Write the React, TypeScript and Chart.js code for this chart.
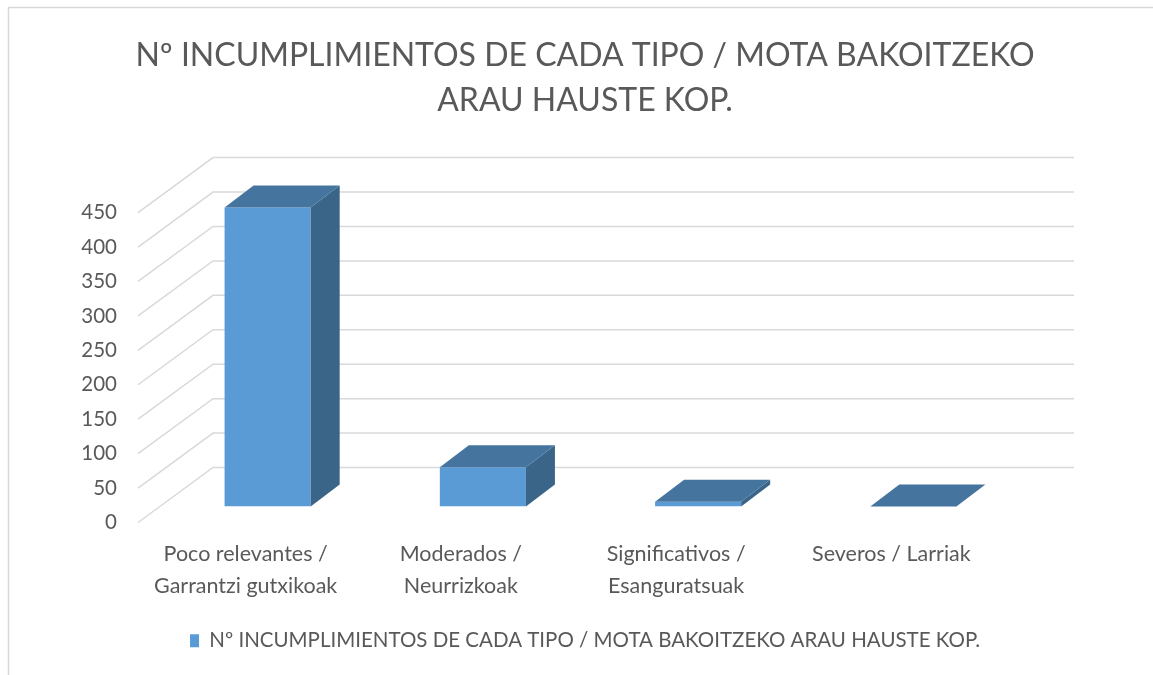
import React, { useEffect, useRef } from "react";
import { Chart, registerables } from "chart.js";

Chart.register(...registerables);

// ---- data ----
const categories: string[][] = [
  ["Poco relevantes /", "Garrantzi gutxikoak"],
  ["Moderados /", "Neurrizkoak"],
  ["Significativos /", "Esanguratsuak"],
  ["Severos / Larriak"],
];
const seriesName = "Nº INCUMPLIMIENTOS DE CADA TIPO / MOTA BAKOITZEKO ARAU HAUSTE KOP.";
const seriesValues = [434, 57, 7, 0];
const titleLines = ["Nº INCUMPLIMIENTOS DE CADA TIPO / MOTA BAKOITZEKO", "ARAU HAUSTE KOP."];
const yMin = 0;
const yMax = 450;
const yStep = 50;

// ---- styles ----
const FONT = "Lato, 'Open Sans', sans-serif";
const TEXT = "#595959";
const GRID = "#d9d9d9";
const FRONT = "#5B9BD5";
const TOP = "#45749F";
const SIDE = "#3A6488";
const FLOOR_DX = 75;
const FLOOR_DY = -55;
const BAR_OX = 22;
const BAR_OY = -16;
const BAR_DX = 29;
const BAR_DY = -22;

const threeD = {
  id: "threeD",
  beforeDraw(chart: any) {
    const ctx = chart.ctx;
    ctx.save();
    ctx.strokeStyle = GRID;
    ctx.lineWidth = 1.5;
    ctx.beginPath();
    ctx.moveTo(8.5, 675);
    ctx.lineTo(8.5, 7.5);
    ctx.lineTo(1153, 7.5);
    ctx.stroke();
    ctx.restore();
  },
  beforeDatasetsDraw(chart: any) {
    const ctx = chart.ctx;
    const ys = chart.scales.y;
    const xs = chart.scales.x;
    ctx.save();
    ctx.strokeStyle = GRID;
    ctx.lineWidth = 1.5;
    ctx.beginPath();
    for (const t of ys.ticks) {
      const py = ys.getPixelForValue(t.value);
      ctx.moveTo(xs.left, py);
      ctx.lineTo(xs.left + FLOOR_DX, py + FLOOR_DY);
      ctx.lineTo(xs.right + FLOOR_DX, py + FLOOR_DY);
    }
    ctx.stroke();
    ctx.restore();
    ctx.save();
    ctx.translate(BAR_OX, BAR_OY);
  },
  afterDatasetsDraw(chart: any) {
    const ctx = chart.ctx;
    ctx.restore();
    const meta = chart.getDatasetMeta(0);
    ctx.save();
    for (const el of meta.data) {
      const p = el.getProps(["x", "y", "base", "width"], true);
      const l = p.x - p.width / 2 + BAR_OX;
      const r = p.x + p.width / 2 + BAR_OX;
      const t = Math.min(p.y, p.base) + BAR_OY;
      const b = Math.max(p.y, p.base) + BAR_OY;
      // side
      ctx.fillStyle = SIDE;
      ctx.beginPath();
      ctx.moveTo(r, t);
      ctx.lineTo(r + BAR_DX, t + BAR_DY);
      ctx.lineTo(r + BAR_DX, b + BAR_DY);
      ctx.lineTo(r, b);
      ctx.closePath();
      ctx.fill();
      // top
      ctx.fillStyle = TOP;
      ctx.beginPath();
      ctx.moveTo(l, t);
      ctx.lineTo(r, t);
      ctx.lineTo(r + BAR_DX, t + BAR_DY);
      ctx.lineTo(l + BAR_DX, t + BAR_DY);
      ctx.closePath();
      ctx.fill();
    }
    ctx.restore();
  },
};

export default function App() {
  const ref = useRef<HTMLCanvasElement | null>(null);
  useEffect(() => {
    if (!ref.current) return;
    const chart = new Chart(ref.current, {
      type: "bar",
      data: {
        labels: categories,
        datasets: [
          {
            label: seriesName,
            data: seriesValues,
            backgroundColor: FRONT,
            borderWidth: 0,
            categoryPercentage: 1,
            barPercentage: 0.4,
          },
        ],
      },
      options: {
        animation: false,
        responsive: false,
        layout: { padding: { left: 17, right: 0, top: 0, bottom: 14 } },
        plugins: {
          title: {
            display: true,
            text: titleLines,
            color: TEXT,
            font: { family: FONT, size: 32, weight: "normal", lineHeight: 1.4 },
            padding: { top: 33, bottom: 90 },
          },
          legend: {
            position: "bottom",
            labels: {
              boxWidth: 9,
              boxHeight: 13,
              color: TEXT,
              font: { family: FONT, size: 20.5 },
              padding: 10,
            },
          },
          tooltip: { enabled: false },
        },
        scales: {
          x: {
            grid: { display: false, drawTicks: false },
            border: { display: false },
            ticks: {
              color: TEXT,
              font: { family: FONT, size: 21.5, lineHeight: 1.49 },
              padding: 16,
              maxRotation: 0,
              autoSkip: false,
            },
            afterFit: (s: any) => {
              s.height = 98;
            },
          },
          y: {
            min: yMin,
            max: yMax,
            grid: { display: false, drawTicks: false },
            border: { display: false },
            ticks: {
              stepSize: yStep,
              color: TEXT,
              font: { family: FONT, size: 20.5 },
              padding: 21,
            },
            afterFit: (s: any) => {
              s.width = 121;
            },
          },
          y2: {
            position: "right",
            min: yMin,
            max: yMax,
            grid: { display: false, drawTicks: false },
            border: { display: false },
            ticks: { display: false },
            afterFit: (s: any) => {
              s.width = 154;
            },
          },
        },
      },
      plugins: [threeD],
    } as any);
    return () => chart.destroy();
  }, []);
  return (
    <div style={{ position: "absolute", left: 0, top: 0, width: 1153, height: 675, background: "#fff" }}>
      <canvas ref={ref} width={1153} height={675} />
    </div>
  );
}
